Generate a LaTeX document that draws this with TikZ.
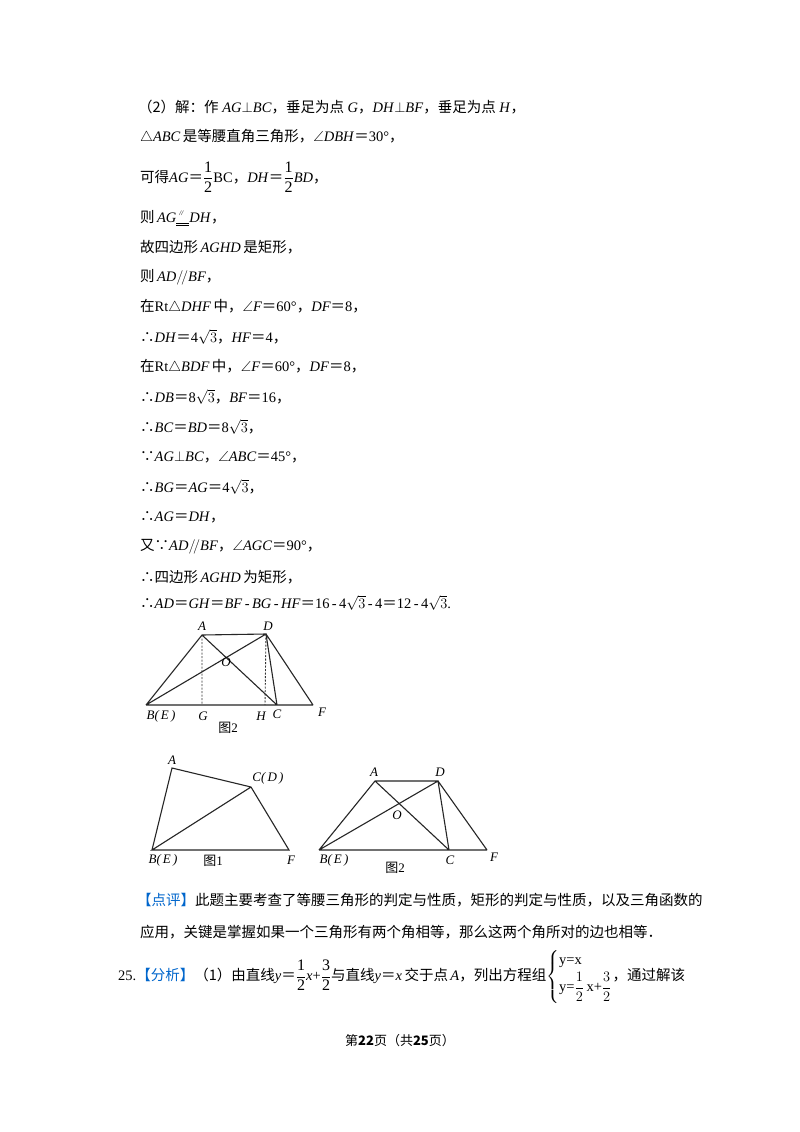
\documentclass[tikz,border=0pt]{standalone}
\usepackage{amsmath,amssymb}
\usepackage{fontspec}
\setmainfont{Liberation Serif}
\newfontfamily\cjk{Noto Sans CJK SC}
\newcommand{\zh}[1]{{\cjk #1}}
\newcommand{\iv}[1]{\textit{#1}}
\newcommand{\eq}{{\cjk ＝}}
\newcommand{\tf}{{\cjk ∴}}
\newcommand{\bc}{{\cjk ∵}}
\newcommand{\bfr}[2]{\ensuremath{\dfrac{\text{\fontsize{16}{16}\selectfont #1}}{\text{\fontsize{16}{16}\selectfont #2}}}}
\definecolor{hblue}{RGB}{0,102,204}
\begin{document}
\begin{tikzpicture}[x=1pt,y=-1pt,
  every node/.style={font=\fontsize{14.5}{17}\selectfont,inner sep=0pt},
  tl/.style={anchor=west},
  ln/.style={line width=1.1pt,black!85},
  dl/.style={line width=0.9pt,dash pattern=on 2pt off 1.5pt,black!80},
  lb/.style={font=\fontsize{13}{15}\selectfont\itshape}]
\useasboundingbox (0,0) rectangle (800,1132);
\fill[white] (0,0) rectangle (800,1132);
\node[tl] (t1) at (138,107) {\zh{（2）解：作} \iv{AG}$\perp$\iv{BC}\zh{，垂足为点} \iv{G}\zh{，}\iv{DH}$\perp$\iv{BF}\zh{，垂足为点} \iv{H}\zh{，}};
\node[tl] (t2) at (140,137) {$\triangle$\iv{ABC}\,\zh{是等腰直角三角形，}$\angle$\iv{DBH}\eq30°\zh{，}};
\node[tl] (t3) at (140,177) {\zh{可得}\iv{AG}\eq\bfr{1}{2}BC\zh{，}\iv{DH}\eq\bfr{1}{2}\iv{BD}\zh{，}};
\node[tl,anchor=base west] (t4) at (140,222) {\zh{则}\,\iv{AG}\rlap{\raisebox{7pt}{\kern3pt\scriptsize\itshape //}}\rule[-2pt]{13pt}{0.8pt}\kern-13pt\rule[-4pt]{13pt}{0.8pt}\iv{DH}\zh{，}};
\node[tl] (t5) at (140,247) {\zh{故四边形}\,\iv{AGHD}\,\zh{是矩形，}};
\node[tl] (t6) at (140,277) {\zh{则}\,\iv{AD}$/\!/$\iv{BF}\zh{，}};
\node[tl] (t7) at (140,307) {\zh{在}Rt$\triangle$\iv{DHF}\,\zh{中，}$\angle$\iv{F}\eq60°\zh{，}\iv{DF}\eq8\zh{，}};
\node[tl] (t8) at (140,337) {\tf\iv{DH}\eq4$\sqrt{3}$\zh{，}\iv{HF}\eq4\zh{，}};
\node[tl] (t9) at (140,367) {\zh{在}Rt$\triangle$\iv{BDF}\,\zh{中，}$\angle$\iv{F}\eq60°\zh{，}\iv{DF}\eq8\zh{，}};
\node[tl] (t10) at (140,397) {\tf\iv{DB}\eq8$\sqrt{3}$\zh{，}\iv{BF}\eq16\zh{，}};
\node[tl] (t11) at (140,427) {\tf\iv{BC}\eq\iv{BD}\eq8$\sqrt{3}$\zh{，}};
\node[tl] (t12) at (140,457) {\bc\iv{AG}$\perp$\iv{BC}\zh{，}$\angle$\iv{ABC}\eq45°\zh{，}};
\node[tl] (t13) at (140,487) {\tf\iv{BG}\eq\iv{AG}\eq4$\sqrt{3}$\zh{，}};
\node[tl] (t14) at (140,517) {\tf\iv{AG}\eq\iv{DH}\zh{，}};
\node[tl] (t15) at (140,547) {\zh{又}\bc\iv{AD}$/\!/$\iv{BF}\zh{，}$\angle$\iv{AGC}\eq90°\zh{，}};
\node[tl] (t16) at (140,577) {\tf\zh{四边形}\,\iv{AGHD}\,\zh{为矩形，}};
\node[tl] (t17) at (140,603) {\tf\iv{AD}\eq\iv{GH}\eq\iv{BF}\,-\,\iv{BG}\,-\,\iv{HF}\eq16\,-\,4$\sqrt{3}$\,-\,4\eq12\,-\,4$\sqrt{3}$.};
% figure top
\coordinate (A) at (202,635); \coordinate (D) at (266,634);
\coordinate (B) at (146,705); \coordinate (C) at (277,705); \coordinate (F) at (313,705);
\coordinate (G) at (202,705); \coordinate (H) at (265,705);
\draw[ln] (B)--(F) (B)--(A)--(D)--(F) (A)--(C) (B)--(D)--(C);
\draw[dl] (A)--(G) (D)--(H);
\node[lb] (lA) at (202,626) {A}; \node[lb] (lD) at (268,626) {D};
\node[lb] (lO) at (226,662) {O};
\node[lb] (lB) at (161,716) {B(\,E\,)}; \node[lb] (lG) at (203,716) {G};
\node[lb] (lH) at (261,716) {H}; \node[lb] (lC) at (277,714) {C}; \node[lb] (lF) at (322,712) {F};
\node (c1) at (228,728) {\zh{\fontsize{13}{15}\selectfont 图}\fontsize{13}{15}\selectfont 2};
% figure 1
\coordinate (A1) at (172,768); \coordinate (C1) at (251,787);
\coordinate (B1) at (152,850); \coordinate (F1) at (289,850);
\draw[ln] (B1)--(A1)--(C1)--(F1)--(B1)--(C1);
\node[lb] (lA1) at (172,760) {A}; \node[lb] (lC1) at (268,778) {C(\,D\,)};
\node[lb] (lB1) at (163,860) {B(\,E\,)}; \node[lb] (lF1) at (291,860) {F};
\node (c2) at (213,861) {\zh{\fontsize{13}{15}\selectfont 图}\fontsize{13}{15}\selectfont 1};
% figure 2b
\coordinate (A2) at (375,781); \coordinate (D2) at (438,781);
\coordinate (B2) at (319,850); \coordinate (C2) at (449,850); \coordinate (F2) at (487,850);
\draw[ln] (B2)--(F2) (B2)--(A2)--(D2)--(F2) (A2)--(C2) (B2)--(D2)--(C2);
\node[lb] (lA2) at (374,772) {A}; \node[lb] (lD2) at (440,772) {D};
\node[lb] (lO2) at (397,815) {O};
\node[lb] (lB2) at (334,860) {B(\,E\,)}; \node[lb] (lC2) at (450,860) {C}; \node[lb] (lF2) at (494,857) {F};
\node (c3) at (395,868) {\zh{\fontsize{13}{15}\selectfont 图}\fontsize{13}{15}\selectfont 2};
% comments
\node[tl] (p1) at (137,900) {\zh{\textcolor{hblue}{【点评】}此题主要考查了等腰三角形的判定与性质，矩形的判定与性质，以及三角函数的}};
\node[tl] (p2) at (140,932) {\zh{应用，关键是掌握如果一个三角形有两个角相等，那么这两个角所对的边也相等．}};
\node[tl] (p3) at (118,977) {25.\zh{\textcolor{hblue}{【分析】}（1）由直线}\iv{y}\eq\bfr{1}{2}\iv{x}+\bfr{3}{2}\zh{与直线}\iv{y}\eq\iv{x}\,\zh{交于点}\,\iv{A}\zh{，列出方程组}$\left\{\begin{array}{@{}l@{}}\text{y=x}\\[3pt] \text{y=}\dfrac{1}{2}\,\text{x+}\dfrac{3}{2}\end{array}\right.$\zh{，通过解该}};
\node (pg) at (400,1041) {\zh{\fontsize{13}{15}\selectfont 第\textbf{22}页（共\textbf{25}页）}};
\end{tikzpicture}
\end{document}
